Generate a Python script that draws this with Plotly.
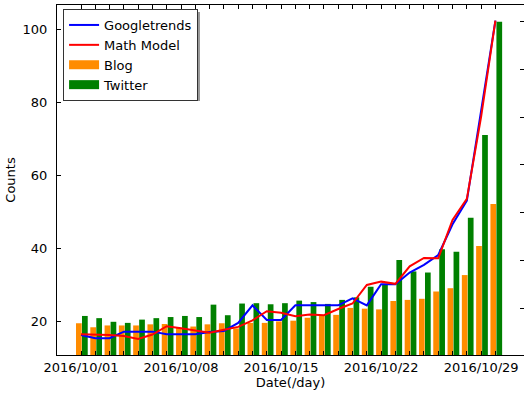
import plotly.graph_objects as go

dates = [f"2016/10/{d:02d}" for d in range(1, 31)]
googletrends = [16.2, 15.3, 15.3, 17.1, 17.1, 17.1, 16.4, 16.4, 16.4, 17.0,
                17.3, 19.5, 24.3, 20.3, 20.3, 24.3, 24.3, 24.3, 24.3, 26.2,
                24.3, 30.1, 30.1, 33.3, 35.4, 38.1, 46.5, 53.0, 77.8, 102.3]
math_model = [16.4, 16.4, 16.2, 15.9, 15.1, 16.3, 18.6, 18.0, 17.5, 16.8,
              17.6, 18.4, 20.2, 22.7, 22.3, 21.3, 21.8, 21.6, 23.3, 24.8,
              29.9, 30.8, 30.2, 35.0, 37.3, 37.2, 47.7, 53.5, 76.0, 102.3]
blog = [19.4, 18.3, 18.8, 18.8, 18.8, 19.1, 19.2, 18.2, 18.5, 19.1,
        19.4, 18.0, 19.5, 19.5, 19.9, 20.1, 20.9, 21.5, 21.7, 23.6,
        23.4, 23.2, 25.5, 25.8, 26.1, 28.1, 29.0, 32.6, 40.6, 52.1]
twitter = [21.4, 20.8, 19.8, 19.5, 20.4, 20.8, 21.1, 21.4, 21.1, 24.5,
           21.6, 24.8, 24.9, 24.6, 24.9, 25.6, 25.2, 24.7, 25.8, 26.5,
           29.4, 30.0, 36.7, 33.6, 33.3, 39.7, 39.0, 48.3, 71.0, 102.0]
y_ticks = [20, 40, 60, 80, 100]
right_ticks = [1, 2, 3, 4, 5, 6, 7]

idx = list(range(len(dates)))
ticktext = [d if i % 7 == 0 else "" for i, d in enumerate(dates)]

BLUE, RED, ORANGE, GREEN = "#0000ff", "#ff0000", "#ff8c00", "#008000"
FONT = "DejaVu Sans"
fig = go.Figure()
fig.add_trace(go.Scatter(x=idx, y=googletrends, mode="lines", name="Googletrends",
                         line=dict(color=BLUE, width=2)))
fig.add_trace(go.Scatter(x=idx, y=math_model, mode="lines", name="Math Model",
                         line=dict(color=RED, width=2)))
fig.add_trace(go.Bar(x=idx, y=blog, name="Blog", showlegend=False,
                     marker=dict(color=ORANGE, line=dict(width=0)), width=0.4, offset=-0.35))
fig.add_trace(go.Bar(x=idx, y=twitter, name="Twitter", showlegend=False,
                     marker=dict(color=GREEN, line=dict(width=0)), width=0.4, offset=0.07))
# legend patches (wide rectangles like the reference)
fig.add_trace(go.Scatter(x=[None], y=[None], mode="lines", name="Blog",
                         line=dict(color=ORANGE, width=9), hoverinfo="skip"))
fig.add_trace(go.Scatter(x=[None], y=[None], mode="lines", name="Twitter",
                         line=dict(color=GREEN, width=9), hoverinfo="skip"))

fig.update_layout(
    width=524, height=396,
    margin=dict(l=57, r=0, t=5, b=41, autoexpand=False),
    paper_bgcolor="white", plot_bgcolor="white",
    font=dict(family=FONT, size=13, color="black"),
    barmode="overlay",
    showlegend=True,
    legend=dict(x=0.013, y=1 - (9 - 5) / 350, xanchor="left", yanchor="top",
                bgcolor="white", bordercolor="#333", borderwidth=1,
                font=dict(family=FONT, size=13), itemwidth=30,
                tracegroupgap=0),
    xaxis=dict(range=[-1.68, 31.0], tickmode="array", tickvals=idx, ticktext=ticktext,
               ticks="inside", ticklen=4, tickcolor="black",
               showline=True, linecolor="black", linewidth=1, mirror="ticks",
               showgrid=False, zeroline=False, automargin=False,
               tickfont=dict(size=13),
               title=dict(text="Date(/day)", standoff=4, font=dict(size=13))),
    yaxis=dict(range=[10.7, 106.6], tickmode="array", tickvals=y_ticks,
               ticks="inside", ticklen=4, tickcolor="black",
               showline=True, linecolor="black", linewidth=1, mirror=True,
               showgrid=False, zeroline=False, ticklabelstandoff=6, automargin=False,
               tickfont=dict(size=13),
               title=dict(text="Counts", standoff=4, font=dict(size=13))),
    yaxis2=dict(overlaying="y", side="right", anchor="x", range=[0.015, 7.35],
                tickmode="array", tickvals=right_ticks, ticks="inside", ticklen=4,
                tickcolor="black", showticklabels=False, showline=False,
                showgrid=False, zeroline=False, automargin=False),
)
fig.add_trace(go.Scatter(x=[None], y=[None], yaxis="y2", showlegend=False, hoverinfo="skip"))

# legend drop shadow
fig.add_shape(type="rect", xref="paper", yref="paper", layer="above",
              x0=(66 - 57) / 467, x1=(200 - 57) / 467,
              y0=1 - (101 - 5) / 350, y1=1 - (12 - 5) / 350,
              fillcolor="#9a9a9a", line=dict(width=0))

fig.write_html("out.html", config={"displayModeBar": False},
               post_script="document.body.style.margin='0px';")
